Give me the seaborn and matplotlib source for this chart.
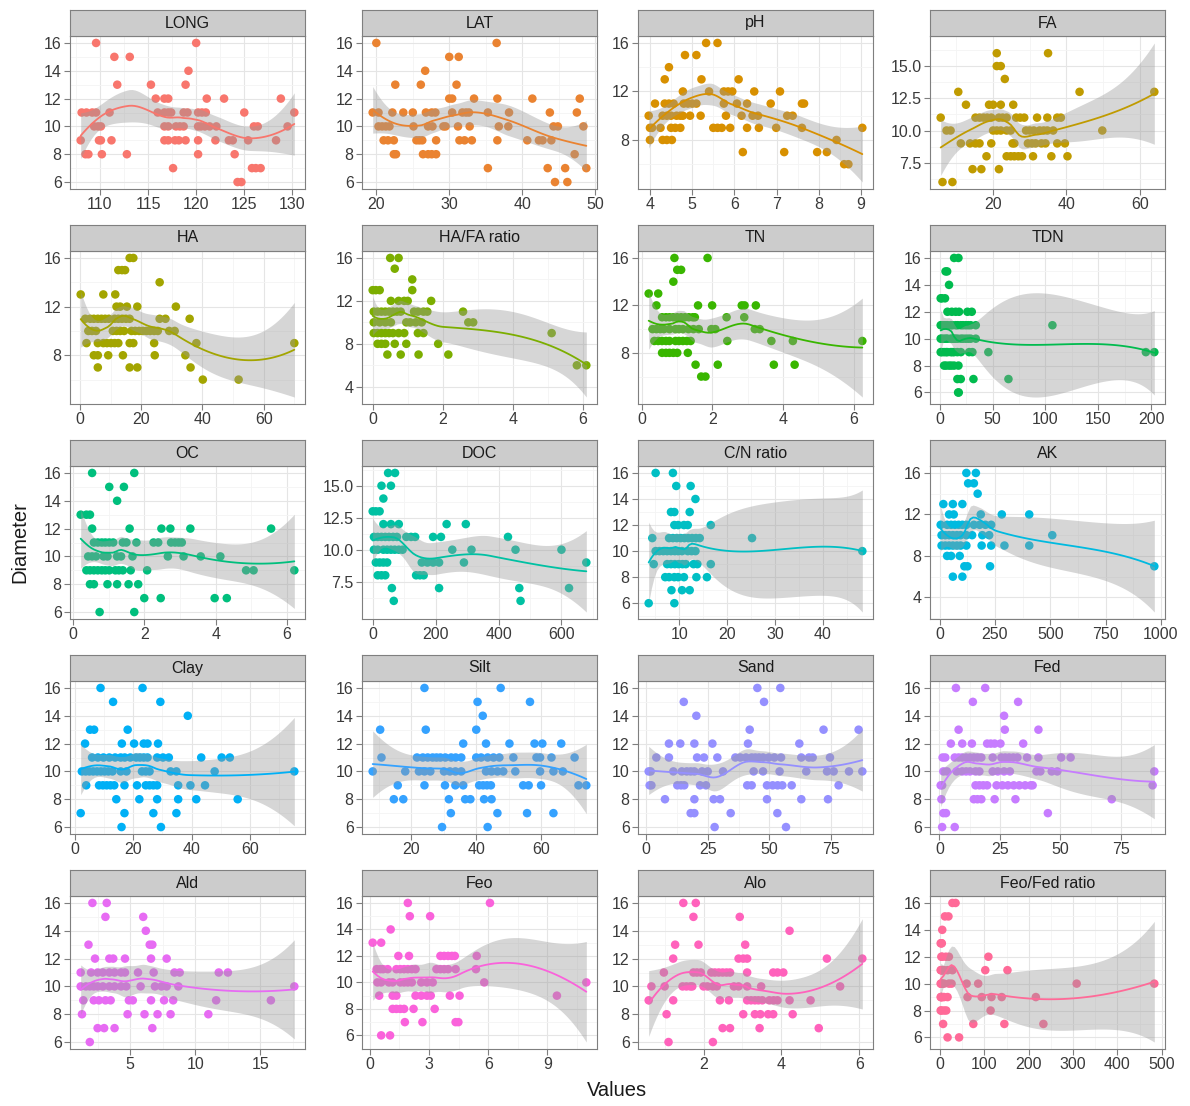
import numpy as np
import pandas as pd
import matplotlib
matplotlib.use("Agg")
import matplotlib.pyplot as plt
import seaborn as sns

# ---------------- data (Diameter level -> values) ----------------
LONG = {16: [109.6, 120.0], 15: [111.5, 113.1], 14: [119.2], 13: [111.8, 115.3, 118.9],
        12: [115.8, 116.7, 117.1, 121.1, 122.9, 128.8],
        11: [108.1, 108.6, 109.2, 109.6, 111.0, 116.0, 116.7, 117.1, 117.4, 118.7, 119.1, 120.2, 120.6, 121.0, 125.0, 130.2],
        10: [109.4, 109.8, 110.1, 116.7, 117.1, 117.9, 118.3, 118.7, 120.2, 120.5, 120.9, 121.4, 122.1, 126.0, 126.4, 129.5],
        9: [108.0, 109.9, 110.1, 111.2, 116.7, 117.1, 117.8, 118.2, 118.9, 120.2, 122.0, 123.4, 123.8, 125.4, 128.3],
        8: [108.5, 108.8, 110.2, 112.8, 120.2, 124.0], 7: [117.6, 125.8, 126.2, 126.7], 6: [124.3, 124.7]}
LAT = {16: [20.0, 36.5], 15: [30.0, 31.3], 14: [26.7], 13: [22.6, 26.1, 31.0],
       12: [30.0, 30.4, 33.4, 36.6, 41.4, 47.9],
       11: [19.5, 20.3, 22.2, 23.7, 25.0, 26.8, 27.6, 28.1, 30.4, 31.8, 32.3, 32.7, 35.3, 38.2, 43.8, 47.5],
       10: [20.3, 20.8, 21.3, 21.8, 25.1, 27.1, 27.7, 29.2, 29.5, 31.2, 32.8, 36.8, 38.1, 44.3, 44.9, 48.4],
       9: [21.0, 21.6, 22.4, 25.5, 25.9, 26.3, 28.2, 31.4, 32.1, 33.1, 36.6, 40.7, 42.3, 42.8, 44.0],
       8: [22.4, 22.7, 26.4, 27.1, 27.6, 28.2, 47.2], 7: [35.3, 43.5, 45.9, 48.8], 6: [44.5, 46.2]}
PH = {16: [5.33, 5.6], 15: [4.83, 5.1], 14: [4.45], 13: [4.35, 5.22, 6.1],
      12: [4.78, 5.4, 5.75, 5.85, 5.95, 6.47, 7.08],
      11: [4.12, 4.35, 4.45, 4.56, 4.8, 4.9, 5.0, 5.1, 5.75, 6.06, 6.3, 6.86, 7.6, 7.65],
      10: [3.97, 4.3, 4.4, 4.5, 4.63, 4.72, 4.78, 4.95, 5.2, 5.8, 6.17, 6.43, 6.56, 7.25, 7.38],
      9: [4.0, 4.05, 4.25, 4.5, 4.6, 4.72, 5.5, 5.6, 5.7, 5.9, 6.3, 6.58, 6.99, 7.6, 9.03],
      8: [4.0, 4.3, 4.4, 4.52, 8.42], 7: [6.2, 7.18, 7.96, 8.19], 6: [8.6, 8.7]}
FA = {16: [21.0, 35.0], 15: [21.0, 22.1], 14: [23.2], 13: [10.5, 43.6, 64.0],
      12: [12.6, 18.9, 20.0, 22.1, 25.5],
      11: [5.7, 15.2, 16.3, 17.4, 18.4, 19.5, 21.6, 22.6, 23.7, 26.3, 27.4, 28.5, 32.0, 34.8, 37.5, 38.5],
      10: [7.3, 8.4, 20.0, 21.0, 22.1, 23.7, 24.8, 29.0, 30.0, 31.1, 32.7, 33.8, 34.8, 36.4, 49.8],
      9: [11.2, 13.7, 15.2, 16.3, 19.5, 25.3, 25.8, 29.5, 30.6, 31.6, 33.2, 34.3, 37.5, 39.6],
      8: [18.2, 23.7, 24.8, 25.8, 26.9, 27.9, 30.9, 35.9, 40.3], 7: [14.4, 16.8, 21.6], 6: [6.2, 8.9]}
HA = {16: [16.2, 17.4], 15: [12.5, 13.7, 14.7], 14: [26.0], 13: [0.2, 7.6, 11.5],
      12: [11.9, 13.1, 15.3, 18.7, 31.3],
      11: [1.7, 3.3, 4.5, 5.8, 7.0, 8.2, 9.4, 11.3, 12.5, 13.7, 15.0, 16.2, 26.0, 27.9, 35.8],
      10: [2.7, 3.9, 5.2, 10.7, 11.9, 13.1, 14.4, 16.8, 18.0, 19.3, 20.5, 21.7, 22.9, 24.2, 25.4, 29.1, 30.9],
      9: [2.1, 5.8, 7.6, 8.8, 10.1, 11.3, 12.5, 16.2, 17.4, 24.2, 38.0, 70.0],
      8: [4.5, 5.8, 9.2, 14.0, 24.4, 34.4], 7: [5.8, 16.2, 18.7, 36.1], 6: [40.1, 51.8]}
HAFA = {16: [0.5, 0.74], 15: [0.63], 14: [1.13], 13: [0.0, 0.09, 0.2, 1.13],
        12: [0.52, 0.74, 0.9, 1.0, 1.67],
        11: [0.03, 0.14, 0.25, 0.36, 0.47, 0.58, 0.69, 0.8, 1.18, 1.29, 1.45, 1.56, 2.58],
        10: [0.03, 0.2, 0.36, 0.52, 0.96, 1.07, 1.23, 1.4, 2.73, 2.87],
        9: [0.03, 0.14, 0.25, 0.36, 0.47, 0.58, 0.74, 0.9, 1.29, 1.45, 5.11],
        8: [0.14, 0.25, 0.36, 0.63, 0.96, 1.87], 7: [0.42, 0.8, 1.31, 2.16], 6: [5.83, 6.1]}
TN = {16: [0.92, 1.86], 15: [1.0, 1.11], 14: [0.89], 13: [0.19, 0.46],
      12: [0.41, 1.59, 1.99, 2.83, 2.91, 3.23],
      11: [0.57, 0.68, 0.78, 0.89, 1.0, 1.11, 1.22, 1.33, 1.44, 1.5, 2.4, 2.9],
      10: [0.3, 0.41, 0.52, 0.62, 0.78, 0.95, 1.05, 1.16, 1.32, 1.46, 1.61, 1.97, 2.08, 3.2, 3.34],
      9: [0.35, 0.46, 0.57, 0.68, 0.78, 0.95, 1.05, 1.16, 1.27, 1.38, 2.42, 3.67, 4.28, 6.25],
      8: [0.57, 0.68, 0.78, 0.89, 1.0, 1.3], 7: [1.52, 2.15, 3.74, 4.33], 6: [1.68, 1.8]}
TDN = {16: [13.6, 17.7], 15: [5.5, 7.0], 14: [8.8], 13: [0.9, 2.0, 5.0],
       12: [7.3, 11.4, 15.1, 18.3, 26.2, 30.3],
       11: [0.9, 2.0, 4.1, 6.0, 7.3, 10.4, 12.0, 15.1, 17.0, 19.9, 22.0, 24.6, 27.0, 29.3, 34.1, 106.6],
       10: [0.9, 2.0, 4.1, 6.0, 7.3, 10.4, 12.0, 13.6, 15.0, 17.0, 20.0, 22.0, 24.6, 27.0, 29.3, 34.1],
       9: [0.9, 2.0, 4.1, 6.0, 7.3, 10.4, 12.0, 13.6, 16.7, 20.0, 27.8, 30.9, 46.0, 195.0, 203.0],
       8: [4.1, 6.0, 8.8, 11.0, 13.6, 17.7], 7: [16.7, 19.9, 31.9, 65.0], 6: [17.4, 18.0]}
OC = {16: [0.54, 1.72], 15: [1.02, 1.43], 14: [1.24], 13: [0.22, 0.38, 0.48],
      12: [0.54, 1.59, 2.48, 2.73, 3.29, 5.55],
      11: [0.59, 0.7, 0.81, 0.91, 1.02, 1.13, 1.4, 1.5, 1.78, 2.26, 2.39, 2.75, 2.86, 2.96, 3.05],
      10: [0.43, 0.54, 0.65, 0.86, 0.97, 1.24, 1.35, 1.67, 2.66, 3.1, 3.58, 4.13],
      9: [0.38, 0.48, 0.59, 0.7, 0.81, 0.91, 1.02, 1.19, 1.29, 1.4, 1.62, 2.08, 4.85, 5.06, 6.2],
      8: [0.48, 0.59, 0.97, 1.24, 1.56, 1.83], 7: [2.0, 2.46, 3.97, 4.31], 6: [0.75, 1.72]}
DOC = {16: [49, 71], 15: [28, 58], 14: [34], 13: [0, 10, 22],
       12: [34, 58, 83, 235, 296],
       11: [4, 16, 28, 40, 52, 65, 77, 107, 122, 135, 192, 217, 430],
       10: [4, 16, 34, 46, 58, 70, 83, 95, 253, 314, 454, 600],
       9: [10, 22, 34, 46, 156, 174, 192, 211, 290, 679],
       8: [16, 28, 40, 138, 150, 162], 7: [61, 211, 466, 624], 6: [67, 470]}
CN = {16: [5.1, 8.7], 15: [9.4, 12.4], 14: [13.4], 13: [8.3, 9.0, 12.2],
      12: [9.0, 9.8, 11.0, 11.8, 16.6],
      11: [4.4, 7.9, 8.7, 9.5, 10.3, 11.1, 11.9, 12.7, 13.5, 14.3, 25.2],
      10: [5.1, 5.9, 6.7, 7.5, 8.3, 9.1, 9.8, 10.6, 11.8, 12.6, 13.4, 48.2],
      9: [4.7, 7.5, 8.3, 9.1, 9.9, 10.7, 11.4, 13.0, 13.8, 16.6],
      8: [7.1, 7.9, 9.0, 9.8, 11.0, 13.6, 15.8], 7: [8.4, 10.6, 12.2], 6: [3.65, 9.0]}
AK = {16: [121, 164], 15: [129, 155], 14: [172], 13: [17, 60, 103],
      12: [43, 64, 186, 281, 405],
      11: [5, 34, 52, 69, 86, 103, 121, 155, 181, 207, 233],
      10: [9, 26, 43, 60, 78, 95, 121, 147, 193, 224, 509],
      9: [9, 26, 43, 60, 78, 95, 121, 190, 233, 293, 405],
      8: [34, 52, 91], 7: [112, 126, 228, 970], 6: [60, 103]}
CLAY = {16: [8.8, 23.2], 15: [13.1, 29.3], 14: [38.7], 13: [5.2, 6.6, 18.1],
        12: [3.5, 16.1, 20.3, 23.6, 24.9, 28.5],
        11: [5.9, 7.9, 9.8, 11.8, 13.8, 15.7, 17.1, 19.0, 21.0, 22.3, 23.6, 24.9, 28.2, 30.2, 32.2, 43.3, 50.3, 53.1],
        10: [2.4, 3.7, 5.0, 6.3, 7.6, 8.9, 10.2, 11.5, 12.9, 15.7, 17.7, 23.0, 24.3, 25.6, 32.8, 34.8, 47.9, 75.2],
        9: [3.9, 8.3, 9.6, 10.9, 12.2, 13.5, 17.0, 21.3, 24.3, 25.6, 26.9, 28.2, 35.4, 39.6, 44.6],
        8: [14.2, 22.1, 28.2, 35.4, 41.6, 55.8], 7: [2.0, 17.0, 26.9, 34.8], 6: [16.0, 29.5]}
SILT = {16: [24.1, 47.5], 15: [40.4, 56.5], 14: [42.0], 13: [10.5, 24.5, 40.0],
        12: [36.0, 43.0, 50.2, 57.9, 60.3, 66.1],
        11: [10.9, 21.8, 23.6, 25.1, 26.6, 27.8, 29.0, 30.5, 32.3, 33.7, 35.4, 40.0, 41.5, 43.5, 45.3, 47.1, 51.4, 58.5, 59.6, 63.1, 70.2],
        10: [8.2, 18.2, 22.4, 24.1, 25.9, 30.1, 31.9, 33.6, 35.4, 43.0, 44.7, 46.5, 48.3, 52.0, 59.6, 63.7, 66.6],
        9: [15.9, 24.1, 30.4, 33.6, 36.0, 40.9, 42.1, 43.3, 44.5, 54.4, 56.1, 59.9, 71.4, 73.8],
        8: [14.7, 17.6, 31.6, 36.6, 38.2, 42.4, 44.7], 7: [32.2, 46.5, 55.6, 63.7], 6: [29.5, 43.5]}
SAND = {16: [45.1, 54.4], 15: [15.3, 47.8], 14: [20.4], 13: [42.0, 71.9, 86.1],
        12: [9.3, 13.9, 19.6, 26.9, 41.3, 62.1],
        11: [4.2, 9.3, 20.7, 23.5, 28.9, 36.2, 38.2, 40.5, 42.8, 44.3, 45.8, 47.4, 49.7, 52.0, 54.7, 62.9, 66.0, 67.5, 74.5],
        10: [1.1, 1.9, 11.1, 14.5, 16.5, 18.1, 19.6, 22.7, 25.0, 31.2, 43.6, 47.4, 54.1, 64.9, 73.3, 76.0, 82.2, 87.6],
        9: [1.5, 2.2, 12.7, 14.2, 15.5, 21.9, 24.3, 41.0, 42.8, 49.0, 51.3, 53.3, 55.2, 59.0, 78.0],
        8: [7.7, 19.6, 27.4, 30.0, 49.0, 62.9, 73.7], 7: [18.1, 19.6, 34.3, 53.2], 6: [27.8, 56.7]}
FED = {16: [6.8, 18.9], 15: [13.8, 32.5], 14: [26.7], 13: [7.9, 27.0, 40.9],
       12: [4.7, 9.4, 13.4, 19.7, 21.2, 22.8, 25.2, 34.6],
       11: [1.3, 2.4, 6.3, 7.9, 9.4, 11.0, 12.6, 14.2, 15.7, 17.3, 22.0, 25.6, 27.2, 28.8, 30.5, 32.2, 36.2, 40.9, 50.3, 54.2],
       10: [1.6, 3.1, 7.1, 9.4, 11.0, 12.6, 14.9, 16.5, 22.0, 24.1, 26.7, 29.1, 40.1, 41.7, 46.4, 48.7, 88.8],
       9: [0.5, 1.1, 14.9, 16.5, 18.1, 19.7, 23.6, 26.0, 28.3, 30.7, 33.0, 35.4, 37.7, 38.5, 88.1],
       8: [0.8, 14.2, 15.7, 17.3, 22.8, 31.4, 71.2], 7: [1.6, 2.7, 44.8], 6: [1.1, 6.3]}
ALD = {16: [2.1, 3.2], 15: [3.1, 6.0], 14: [6.2], 13: [1.8, 6.5, 6.7],
       12: [2.3, 3.4, 3.7, 4.6, 6.6, 7.8],
       11: [1.2, 2.0, 2.5, 2.9, 3.4, 3.8, 4.3, 4.6, 5.6, 6.8, 8.4, 8.8, 11.8, 12.5],
       10: [1.2, 1.6, 1.9, 2.2, 2.5, 2.9, 3.4, 3.8, 4.3, 4.7, 5.8, 6.9, 7.4, 7.8, 8.7, 17.6],
       9: [1.4, 2.2, 2.6, 3.1, 3.5, 4.9, 5.2, 6.6, 7.6, 8.3, 11.6, 15.8],
       8: [1.3, 4.8, 6.1, 7.1, 8.1, 11.0], 7: [2.5, 3.0, 3.8, 6.7], 6: [1.9]}
FEO = {16: [1.93, 6.09], 15: [2.03, 3.06], 14: [1.06], 13: [0.15, 0.58],
       12: [1.45, 1.99, 3.58, 3.77, 3.97, 4.16, 4.31, 5.42],
       11: [0.35, 0.54, 0.68, 0.91, 1.35, 1.55, 1.74, 1.93, 2.13, 2.32, 3.38, 3.58, 3.77, 3.97, 4.35, 5.38],
       10: [0.39, 0.58, 0.97, 1.16, 1.55, 1.74, 1.93, 2.13, 2.61, 2.9, 3.19, 5.8, 10.97],
       9: [0.48, 1.16, 1.35, 2.32, 2.61, 2.9, 3.09, 4.06, 4.55, 9.48],
       8: [1.16, 1.35, 1.55, 1.74, 2.22, 3.29], 7: [1.78, 2.67, 4.35, 4.49], 6: [0.58, 1.03]}
ALO = {16: [1.48, 1.8], 15: [1.74, 2.93], 14: [4.21], 13: [1.27, 1.87, 3.07],
       12: [1.22, 2.9, 3.02, 3.12, 5.17, 6.08],
       11: [0.98, 1.74, 1.83, 1.93, 2.2, 2.29, 2.39, 2.49, 2.59, 2.68, 3.12, 3.79, 3.9, 4.05],
       10: [0.66, 1.0, 1.46, 1.56, 1.66, 1.71, 2.0, 2.1, 2.24, 2.34, 2.78, 2.9, 3.12, 3.48, 5.51],
       9: [0.59, 1.22, 2.42, 2.65, 3.12, 3.22, 3.32, 3.41, 3.51, 3.69, 3.8, 3.9, 4.21, 4.75],
       8: [1.05, 3.02, 3.32, 3.46, 3.66, 3.79, 4.29], 7: [2.49, 2.68, 3.44, 4.96], 6: [1.1, 2.24]}
FEOFED = {16: [28, 35], 15: [11, 19], 14: [5], 13: [1.5, 3, 4],
          12: [3, 5, 13, 20, 109],
          11: [1.5, 2.5, 3.5, 4.5, 6, 9, 17, 28, 102, 152],
          10: [1.5, 2.5, 3.5, 5, 9, 20, 26, 60, 86, 308, 483],
          9: [1.5, 2.5, 3.5, 5, 9, 17, 62, 94, 116, 139, 216],
          8: [1.5, 3, 9, 14, 114], 7: [7, 75, 145, 233], 6: [17, 43]}

PANEL_NAMES = ["LONG", "LAT", "pH", "FA", "HA", "HA/FA ratio", "TN", "TDN",
               "OC", "DOC", "C/N ratio", "AK", "Clay", "Silt", "Sand", "Fed",
               "Ald", "Feo", "Alo", "Feo/Fed ratio"]
PANEL_DATA = [LONG, LAT, PH, FA, HA, HAFA, TN, TDN, OC, DOC, CN, AK,
              CLAY, SILT, SAND, FED, ALD, FEO, ALO, FEOFED]

X_TICKS = {"LONG": [110, 115, 120, 125, 130], "LAT": [20, 30, 40, 50], "pH": [4, 5, 6, 7, 8, 9],
           "FA": [20, 40, 60], "HA": [0, 20, 40, 60], "HA/FA ratio": [0, 2, 4, 6], "TN": [0, 2, 4, 6],
           "TDN": [0, 50, 100, 150, 200], "OC": [0, 2, 4, 6], "DOC": [0, 200, 400, 600],
           "C/N ratio": [10, 20, 30, 40], "AK": [0, 250, 500, 750, 1000], "Clay": [0, 20, 40, 60],
           "Silt": [20, 40, 60], "Sand": [0, 25, 50, 75], "Fed": [0, 25, 50, 75], "Ald": [5, 10, 15],
           "Feo": [0, 3, 6, 9], "Alo": [2, 4, 6], "Feo/Fed ratio": [0, 100, 200, 300, 400, 500]}
Y_TICKS = {"pH": [8, 12, 16], "FA": [7.5, 10.0, 12.5, 15.0], "HA": [8, 12, 16],
           "HA/FA ratio": [4, 8, 12, 16], "TN": [8, 12, 16], "DOC": [7.5, 10.0, 12.5, 15.0],
           "AK": [4, 8, 12, 16]}
DEFAULT_Y_TICKS = [6, 8, 10, 12, 14, 16]
ONE_DECIMAL_Y = ["FA", "DOC"]

# ---------------- helpers ----------------
def hue_color(h, c=100.0, l=65.0):
    Xn, Yn, Zn = 95.047, 100.0, 108.883
    den = Xn + 15 * Yn + 3 * Zn
    un, vn = 4 * Xn / den, 9 * Yn / den
    hr = np.deg2rad(h)
    U, V = c * np.cos(hr), c * np.sin(hr)
    Y = Yn * ((l + 16) / 116) ** 3 if l > 8 else Yn * l / 903.3
    u = U / (13 * l) + un
    v = V / (13 * l) + vn
    X = 9.0 * Y * u / (4 * v)
    Z = -X / 3 - 5 * Y + 3 * Y / v
    X, Y, Z = X / 100, Y / 100, Z / 100
    rgb = np.array([3.240479 * X - 1.537150 * Y - 0.498535 * Z,
                    -0.969256 * X + 1.875992 * Y + 0.041556 * Z,
                    0.055648 * X - 0.204043 * Y + 1.057311 * Z])
    rgb = np.where(rgb <= 0.0031308, 12.92 * rgb, 1.055 * np.abs(rgb) ** (1 / 2.4) - 0.055)
    return tuple(np.clip(rgb, 0, 1))


def loess_band(x, y, grid, span=0.75, cell=0.2):
    """Loess (degree 2, tricube) evaluated on a kd-tree of vertices with cubic
    Hermite interpolation, like R's default surface='interpolate'."""
    x = np.asarray(x, float)
    y = np.asarray(y, float)
    n = len(x)
    q = int(np.floor(n * span))
    fc = int(np.floor(n * span * cell))

    def local_rows(x0):
        d = np.abs(x - x0)
        h = np.sort(d)[q - 1]
        h = max(h, 1e-9)
        u = d / h
        w = np.where(u < 1, (1 - u ** 3) ** 3, 0.0)
        s = (x - x0) / h
        Xd = np.column_stack([np.ones(n), s, s ** 2])
        XtW = Xd.T * w
        P = np.linalg.pinv(XtW @ Xd) @ XtW
        return P[0], P[1] / h

    lo0, hi0 = x.min(), x.max()
    mu = 0.005 * max(hi0 - lo0, 1e-10)
    verts = {lo0 - mu, hi0 + mu}

    def split(pts):
        k = len(pts)
        if k <= fc:
            return
        m = (k + 1) // 2 - 1
        found = None
        for off in sorted(range(-k, k), key=lambda o: (abs(o), -o)):
            j = m + off
            if 0 <= j < k - 1 and pts[j] != pts[j + 1]:
                found = j
                break
        if found is None:
            return
        t = 0.5 * (pts[found] + pts[found + 1])
        verts.add(t)
        split(pts[:found + 1])
        split(pts[found + 1:])

    split(np.sort(x))
    V = np.array(sorted(verts))
    vals, slopes = [], []
    for v in V:
        a, b = local_rows(v)
        vals.append(a)
        slopes.append(b)
    vals = np.array(vals)
    slopes = np.array(slopes)

    def op(xe):
        xe = np.asarray(xe, float)
        idx = np.clip(np.searchsorted(V, xe, side="right") - 1, 0, len(V) - 2)
        v0, v1 = V[idx], V[idx + 1]
        hh = v1 - v0
        t = (xe - v0) / hh
        h00 = 2 * t ** 3 - 3 * t ** 2 + 1
        h10 = t ** 3 - 2 * t ** 2 + t
        h01 = -2 * t ** 3 + 3 * t ** 2
        h11 = t ** 3 - t ** 2
        return (h00[:, None] * vals[idx] + (h10 * hh)[:, None] * slopes[idx]
                + h01[:, None] * vals[idx + 1] + (h11 * hh)[:, None] * slopes[idx + 1])

    L = op(x)
    R = np.eye(n) - L
    M = R.T @ R
    d1 = np.trace(M)
    d2 = np.trace(M @ M)
    rss = np.sum((y - L @ y) ** 2)
    sigma = np.sqrt(rss / d1)
    df = d1 ** 2 / d2
    z = 1.959964
    tq = z + (z ** 3 + z) / (4 * df) + (5 * z ** 5 + 16 * z ** 3 + 3 * z) / (96 * df ** 2)
    Lp = op(grid)
    fit = Lp @ y
    se = sigma * np.sqrt((Lp ** 2).sum(axis=1))
    return fit, fit - tq * se, fit + tq * se


def minor_breaks(major, lo, hi):
    major = sorted(major)
    step = major[1] - major[0]
    cands = [m + step / 2 for m in major] + [major[0] - step / 2]
    return [m for m in cands if lo <= m <= hi]


# ---------------- table ----------------
rows = []
for name, d in zip(PANEL_NAMES, PANEL_DATA):
    for diam, vals in d.items():
        for v in vals:
            rows.append((name, float(v), float(diam)))
df = pd.DataFrame(rows, columns=["variable", "value", "Diameter"])

# ---------------- figure ----------------
sns.set_theme(style="white")
plt.rcParams["font.family"] = ["Liberation Sans", "DejaVu Sans"]

W, H = 1190, 1106
fig = plt.figure(figsize=(W / 100, H / 100), dpi=100)
fig.patch.set_facecolor("white")

COL_LEFT = [70, 362, 638, 930]
PW, PH_ = 235, 153
STRIP = 26
ROW_TOP = [36 + 215 * r for r in range(5)]

hues = np.linspace(15, 375, 21)[:-1]
GREY50 = "#7F7F7F"

for i, name in enumerate(PANEL_NAMES):
    r, c = divmod(i, 4)
    left = COL_LEFT[c]
    top = ROW_TOP[r]
    col = hue_color(hues[i])
    sub = df[df["variable"] == name]
    x = sub["value"].to_numpy()
    y = sub["Diameter"].to_numpy()

    ax = fig.add_axes([left / W, 1 - (top + PH_) / H, PW / W, PH_ / H])
    sax = fig.add_axes([left / W, 1 - top / H, PW / W, STRIP / H])

    sns.scatterplot(data=sub, x="value", y="Diameter", color=col, s=38,
                    linewidth=0, edgecolor="none", ax=ax, zorder=2, legend=False)

    grid = np.linspace(x.min(), x.max(), 80)
    fit, lo, hi = loess_band(x, y, grid)
    ax.fill_between(grid, lo, hi, color="#999999", alpha=0.4, linewidth=0, zorder=3)
    ax.plot(grid, fit, color=col, lw=1.3, zorder=4)

    xr = x.max() - x.min()
    xlo, xhi = x.min() - 0.05 * xr, x.max() + 0.05 * xr
    ymin = min(y.min(), lo.min())
    ymax = max(y.max(), hi.max())
    yr = ymax - ymin
    ylo, yhi = ymin - 0.05 * yr, ymax + 0.05 * yr
    ax.set_xlim(xlo, xhi)
    ax.set_ylim(ylo, yhi)

    xt = [t for t in X_TICKS[name] if xlo <= t <= xhi]
    yt = [t for t in Y_TICKS.get(name, DEFAULT_Y_TICKS) if ylo <= t <= yhi]
    ax.set_xticks(xt)
    ax.set_xticklabels([f"{t:g}" for t in xt])
    ax.set_yticks(yt)
    if name in ONE_DECIMAL_Y:
        ax.set_yticklabels([f"{t:.1f}" for t in yt])
    else:
        ax.set_yticklabels([f"{t:g}" for t in yt])
    ax.set_xticks(minor_breaks(X_TICKS[name], xlo, xhi), minor=True)
    ax.set_yticks(minor_breaks(Y_TICKS.get(name, DEFAULT_Y_TICKS), ylo, yhi), minor=True)

    ax.set_facecolor("white")
    ax.set_axisbelow(True)
    ax.grid(which="major", color="#E5E5E5", lw=0.8)
    ax.grid(which="minor", color="#F4F4F4", lw=0.6)
    ax.tick_params(axis="both", which="major", length=4, width=0.8, color=GREY50,
                   labelsize=11.5, labelcolor="#3A3A3A", pad=2, bottom=True, left=True)
    ax.tick_params(axis="both", which="minor", length=0)
    for sp in ax.spines.values():
        sp.set_color(GREY50)
        sp.set_linewidth(0.8)
    ax.set_xlabel("")
    ax.set_ylabel("")

    sax.set_facecolor("#CCCCCC")
    sax.set_xticks([])
    sax.set_yticks([])
    for sp in sax.spines.values():
        sp.set_color(GREY50)
        sp.set_linewidth(0.8)
    sax.text(0.5, 0.5, name, ha="center", va="center", fontsize=11.5,
             color="#1A1A1A", transform=sax.transAxes)

fig.text(617 / W, 1 - 1091 / H, "Values", ha="center", va="center", fontsize=14.5, color="#1A1A1A")
fig.text(20 / W, 1 - 542 / H, "Diameter", ha="center", va="center", rotation=90,
         fontsize=14.5, color="#1A1A1A")

fig.savefig("out.png", dpi=100, facecolor="white")
